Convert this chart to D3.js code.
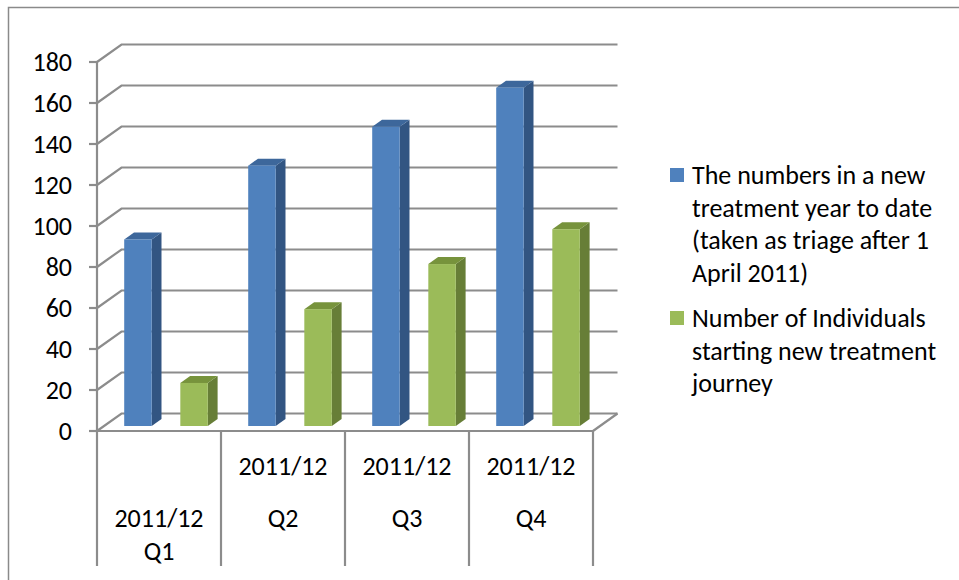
<!DOCTYPE html>
<html>
<head>
<meta charset="utf-8">
<script src="https://cdn.jsdelivr.net/npm/d3@7"></script>
<style>
  body { margin: 0; background: #fff; }
  svg { display: block; }
  text { font-family: Carlito, Calibri, Lato, sans-serif; font-size: 26px; fill: #000; }
</style>
</head>
<body>
<div id="chart"></div>
<script>
'use strict';

// --- data ---
var categories = ['2011/12 Q1', '2011/12 Q2', '2011/12 Q3', '2011/12 Q4'];
var categoryLines = [['', '2011/12', 'Q1'], ['2011/12', 'Q2'], ['2011/12', 'Q3'], ['2011/12', 'Q4']];
var seriesNames = [
  'The numbers in a new treatment year to date (taken as triage after 1 April 2011)',
  'Number of Individuals starting new treatment journey'
];
var seriesLines = [
  ['The numbers in a new', 'treatment year to date', '(taken as triage after 1', 'April 2011)'],
  ['Number of Individuals', 'starting new treatment', 'journey']
];
var yearToDate  = [91, 127, 146, 165];
var startingNew = [21, 57, 79, 96];
var yTicks = [0, 20, 40, 60, 80, 100, 120, 140, 160, 180];

var W = 959, H = 580;
var GRID = '#8c8c8c';

// 3d look: depth shift of the back wall
var DEPTH_X = 24.5, DEPTH_Y = -17.5;
var BAR_Z0 = 0.286, BAR_Z1 = 0.686;

var faceColors = [
  { front: '#4f81bd', side: '#325582', top: '#3d679b' },
  { front: '#9bbb59', side: '#677e37', top: '#77933c' }
];

var svg = d3.select('#chart').append('svg')
  .attr('width', W)
  .attr('height', H);

// chart area border (cut off on the right and bottom)
svg.append('path')
  .attr('d', 'M8.5,' + H + 'V7.5H' + W)
  .attr('fill', 'none')
  .attr('stroke', '#8a8a8a')
  .attr('stroke-width', 1.5);

var x0 = d3.scaleBand().domain(categories).range([97, 593]);
var x1 = d3.scaleBand().domain(d3.range(seriesNames.length))
  .range([0, x0.bandwidth()])
  .paddingInner(0.51)
  .paddingOuter(0.36);
var y = d3.scaleLinear().domain([0, 180]).range([431, 62]);

function shift(z) { return [z * DEPTH_X, z * DEPTH_Y]; }

var back = shift(1);
var grid = svg.append('g').attr('fill', 'none').attr('stroke', GRID).attr('stroke-width', 2.2);

// side wall diagonals + back wall lines
yTicks.forEach(function (v) {
  var yy = y(v);
  grid.append('path')
    .attr('d', 'M97,' + yy + 'L' + (97 + back[0]) + ',' + (yy + back[1]) + 'H' + (593 + back[0]));
  grid.append('line')
    .attr('x1', 89).attr('x2', 97)
    .attr('y1', yy).attr('y2', yy);
});

// floor right edge
grid.append('line')
  .attr('x1', 593).attr('y1', y(0))
  .attr('x2', 593 + back[0]).attr('y2', y(0) + back[1]);

// value axis
grid.append('line')
  .attr('x1', 97).attr('x2', 97)
  .attr('y1', y(180)).attr('y2', y(0));

// category axis: front floor line + separators reaching down
grid.append('line')
  .attr('x1', 97).attr('x2', 593)
  .attr('y1', y(0)).attr('y2', y(0));
var sepX = categories.map(function (c) { return x0(c); }).concat([x0.range()[1]]);
sepX.forEach(function (sx) {
  grid.append('line')
    .attr('x1', sx).attr('x2', sx)
    .attr('y1', y(0)).attr('y2', 566);
});

// y tick labels
svg.append('g').selectAll('text')
  .data(yTicks)
  .join('text')
  .attr('x', 72)
  .attr('y', function (d) { return y(d); })
  .attr('dy', '0.36em')
  .attr('text-anchor', 'end')
  .text(function (d) { return d; });

// category labels (Excel wraps them in a funny way)
var catRowY = [466, 518, 551];
categories.forEach(function (c, i) {
  categoryLines[i].forEach(function (ln, j) {
    if (!ln) return;
    svg.append('text')
      .attr('x', x0(c) + x0.bandwidth() / 2)
      .attr('y', catRowY[j])
      .attr('dy', '0.36em')
      .attr('text-anchor', 'middle')
      .text(ln);
  });
});

// bars
var f = shift(BAR_Z0), b = shift(BAR_Z1);
var barData = [];
[yearToDate, startingNew].forEach(function (vals, s) {
  vals.forEach(function (v, i) {
    barData.push({ s: s, cat: categories[i], value: v });
  });
});

var bars = svg.append('g').selectAll('g')
  .data(barData)
  .join('g');

bars.each(function (d) {
  var g = d3.select(this);
  var c = faceColors[d.s];
  var xl = x0(d.cat) + x1(d.s) + f[0];
  var xr = xl + x1.bandwidth();
  var yt = y(d.value) + f[1];
  var yb = y(0) + f[1];
  var dx = b[0] - f[0], dy = b[1] - f[1];

  // side face
  g.append('path')
    .attr('d', 'M' + xr + ',' + yt + 'L' + (xr + dx) + ',' + (yt + dy) +
      'L' + (xr + dx) + ',' + (yb + dy) + 'L' + xr + ',' + yb + 'Z')
    .attr('fill', c.side);
  // top face
  g.append('path')
    .attr('d', 'M' + xl + ',' + yt + 'L' + (xl + dx) + ',' + (yt + dy) +
      'L' + (xr + dx) + ',' + (yt + dy) + 'L' + xr + ',' + yt + 'Z')
    .attr('fill', c.top);
  // front face
  g.append('rect')
    .attr('x', xl)
    .attr('y', yt)
    .attr('width', x1.bandwidth())
    .attr('height', yb - yt)
    .attr('fill', c.front);
});

// legend
var legendTop = [175, 318];
var legend = svg.append('g');
seriesLines.forEach(function (lines, s) {
  legend.append('rect')
    .attr('x', 670)
    .attr('y', legendTop[s] - 7)
    .attr('width', 14)
    .attr('height', 14)
    .attr('fill', faceColors[s].front);
  lines.forEach(function (ln, j) {
    legend.append('text')
      .attr('x', 692)
      .attr('y', legendTop[s] + j * 32.5)
      .attr('dy', '0.36em')
      .text(ln);
  });
});
</script>
</body>
</html>
